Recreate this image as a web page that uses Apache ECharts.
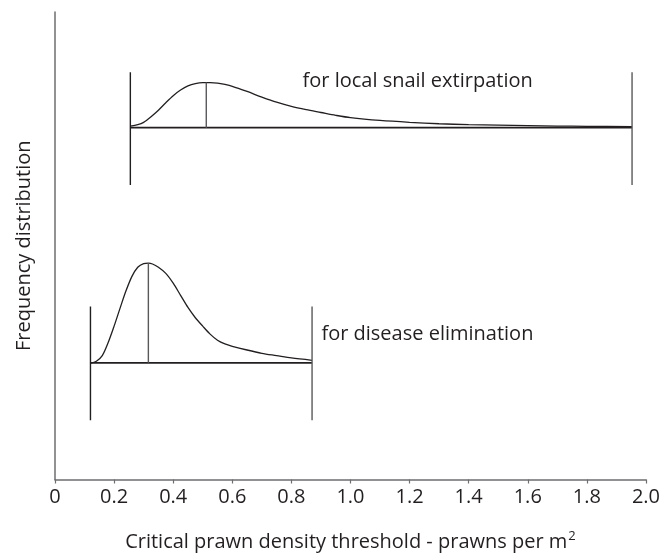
<!DOCTYPE html>
<html>
<head>
<meta charset="utf-8">
<script src="https://cdn.jsdelivr.net/npm/echarts@6/dist/echarts.min.js"></script>
<style>html,body{margin:0;padding:0;background:#fff}#c{width:663px;height:557px}</style>
</head>
<body>
<div id="c"></div>
<script>
// ---- data ----
const xTicks = [0, 0.2, 0.4, 0.6, 0.8, 1.0, 1.2, 1.4, 1.6, 1.8, 2.0];

// upper distribution: local snail extirpation
const snailX = [0.255, 0.28, 0.30, 0.325, 0.35, 0.375, 0.40, 0.425, 0.45, 0.475, 0.50, 0.525, 0.55, 0.575, 0.60, 0.65, 0.70, 0.75, 0.80, 0.85, 0.90, 0.95, 1.00, 1.10, 1.20, 1.30, 1.40, 1.50, 1.60, 1.70, 1.80, 1.953];
const snailY = [75.6, 75.9, 76.4, 77.6, 79.0, 80.6, 82.1, 83.3, 84.2, 84.7, 84.9, 84.9, 84.8, 84.5, 84.1, 83.0, 81.8, 80.7, 79.8, 79.1, 78.5, 77.9, 77.4, 76.8, 76.4, 76.1, 75.9, 75.8, 75.7, 75.6, 75.55, 75.5];
const snailBase = 75.26;
const snailRange = [0.255, 1.953];
const snailBoundY = [63.0, 87.1];
const snailMedian = 0.512;
const snailMedianTop = 84.9;

// lower distribution: disease elimination
const diseaseX = [0.120, 0.14, 0.16, 0.18, 0.20, 0.22, 0.24, 0.26, 0.28, 0.30, 0.316, 0.33, 0.35, 0.375, 0.40, 0.425, 0.45, 0.475, 0.50, 0.525, 0.55, 0.575, 0.60, 0.65, 0.70, 0.75, 0.80, 0.87];
const diseaseY = [24.9, 25.3, 26.5, 29.3, 32.8, 36.6, 40.3, 43.4, 45.4, 46.2, 46.3, 46.1, 45.4, 44.1, 42.0, 39.4, 36.8, 34.6, 32.8, 31.1, 29.8, 29.0, 28.5, 27.7, 27.0, 26.5, 26.0, 25.5];
const diseaseBase = 24.95;
const diseaseRange = [0.120, 0.870];
const diseaseBoundY = [12.68, 37.0];
const diseaseMedian = 0.316;
const diseaseMedianTop = 46.3;

const labels = ['for local snail extirpation', 'for disease elimination'];
const labelX = [0.836, 0.9];
const labelY = [85.2, 31.1];

// ---- chart ----
const FONT = '"Open Sans", sans-serif';
const FS = 20;
const TXT = '#231f20';
const AX = '#6d6e70';
const zip = (a, b) => a.map((v, i) => [v, b[i]]);

function seg(pts, color, w) {
  return { type: 'line', data: pts, symbol: 'none', silent: true,
    lineStyle: { color: color, width: w }, animation: false };
}

const series = [
  { type: 'line', data: zip(snailX, snailY), smooth: 0.3, symbol: 'none', silent: true,
    lineStyle: { color: TXT, width: 1.3 }, animation: false },
  { type: 'line', data: zip(diseaseX, diseaseY), smooth: 0.3, symbol: 'none', silent: true,
    lineStyle: { color: TXT, width: 1.3 }, animation: false },
  seg([[snailRange[0], snailBase], [snailRange[1], snailBase]], TXT, 1.6),
  seg([[snailRange[0], snailBoundY[0]], [snailRange[0], snailBoundY[1]]], TXT, 1.4),
  seg([[snailRange[1], snailBoundY[0]], [snailRange[1], snailBoundY[1]]], '#58595b', 1.4),
  seg([[snailMedian, snailBase], [snailMedian, snailMedianTop]], '#58595b', 1.4),
  seg([[diseaseRange[0], diseaseBase], [diseaseRange[1], diseaseBase]], TXT, 1.6),
  seg([[diseaseRange[0], diseaseBoundY[0]], [diseaseRange[0], diseaseBoundY[1]]], TXT, 1.4),
  seg([[diseaseRange[1], diseaseBoundY[0]], [diseaseRange[1], diseaseBoundY[1]]], '#58595b', 1.4),
  seg([[diseaseMedian, diseaseBase], [diseaseMedian, diseaseMedianTop]], '#58595b', 1.4),
  { type: 'scatter', symbolSize: 1, silent: true, animation: false,
    itemStyle: { color: 'rgba(0,0,0,0)', opacity: 1 },
    data: labels.map((t, i) => ({ value: [labelX[i], labelY[i]], name: t })),
    label: { show: true, position: 'right', distance: 0, formatter: p => p.name,
      color: TXT, opacity: 1, textBorderWidth: 0, fontFamily: FONT, fontSize: FS } }
];

const chart = echarts.init(document.getElementById('c'));
chart.setOption({
  backgroundColor: '#fff',
  animation: false,
  grid: { left: 55, right: 15, top: 12, bottom: 72, containLabel: false },
  xAxis: {
    type: 'value', min: 0, max: 2, interval: 0.2,
    name: 'Critical prawn density threshold - prawns per m{sup|2}',
    nameLocation: 'middle', nameGap: 50,
    nameTextStyle: { color: TXT, fontFamily: FONT, fontSize: FS,
      rich: { sup: { fontSize: 13, verticalAlign: 'top', padding: [0, 0, 12, 1], color: TXT, fontFamily: FONT } } },
    axisLine: { show: true, lineStyle: { color: AX, width: 1.5 } },
    axisTick: { show: true, length: 4, lineStyle: { color: AX, width: 1.2 } },
    splitLine: { show: false },
    axisLabel: { color: TXT, fontFamily: FONT, fontSize: FS, margin: 8,
      formatter: v => { const t = xTicks.find(k => Math.abs(k - v) < 1e-6); return t === 0 ? '0' : (t !== undefined ? t.toFixed(1) : ''); } }
  },
  yAxis: {
    type: 'value', min: 0, max: 100,
    name: 'Frequency distribution', nameLocation: 'middle', nameGap: 21,
    nameTextStyle: { color: TXT, fontFamily: FONT, fontSize: FS },
    axisLine: { show: true, lineStyle: { color: AX, width: 1.5 } },
    axisTick: { show: false }, axisLabel: { show: false }, splitLine: { show: false }
  },
  series: series
});
</script>
</body>
</html>
